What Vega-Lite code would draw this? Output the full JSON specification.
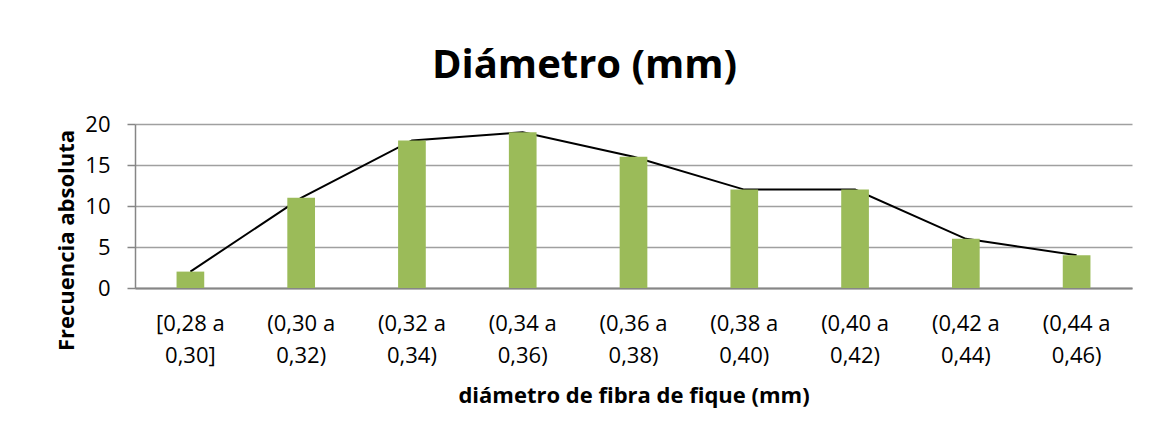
{
  "$schema": "https://vega.github.io/schema/vega-lite/v6.json",
  "autosize": "none",
  "padding": {"left": 135, "top": 124, "right": 25, "bottom": 148},
  "width": 997,
  "height": 164,
  "background": "white",
  "title": {
    "text": "Diámetro (mm)",
    "font": "Open Sans",
    "fontSize": 40,
    "fontWeight": "bold",
    "color": "#000000",
    "anchor": "middle",
    "baseline": "alphabetic",
    "offset": -5,
    "dx": -49
  },
  "data": {
    "values": [
      {"intervalo": "[0,28 a 0,30]", "frecuencia": 2},
      {"intervalo": "(0,30 a 0,32)", "frecuencia": 11},
      {"intervalo": "(0,32 a 0,34)", "frecuencia": 18},
      {"intervalo": "(0,34 a 0,36)", "frecuencia": 19},
      {"intervalo": "(0,36 a 0,38)", "frecuencia": 16},
      {"intervalo": "(0,38 a 0,40)", "frecuencia": 12},
      {"intervalo": "(0,40 a 0,42)", "frecuencia": 12},
      {"intervalo": "(0,42 a 0,44)", "frecuencia": 6},
      {"intervalo": "(0,44 a 0,46)", "frecuencia": 4}
    ]
  },
  "encoding": {
    "x": {
      "field": "intervalo",
      "type": "nominal",
      "sort": null,
      "scale": {"paddingInner": 0.75, "paddingOuter": 0.375},
      "axis": {
        "title": "diámetro de fibra de fique (mm)",
        "titleFont": "Open Sans",
        "titleFontSize": 22,
        "titleFontWeight": "bold",
        "titleColor": "#000000",
        "titleBaseline": "alphabetic",
        "titleY": 114,
        "labelExpr": "[slice(datum.label, 0, 7), slice(datum.label, 8)]",
        "labelAngle": 0,
        "labelFont": "Open Sans",
        "labelFontSize": 22,
        "labelColor": "#000000",
        "labelLineHeight": 32,
        "labelBaseline": "top",
        "labelPadding": 25,
        "ticks": false,
        "tickSize": 0,
        "domainColor": "#868686",
        "domainWidth": 2,
        "grid": false
      }
    },
    "y": {
      "field": "frecuencia",
      "type": "quantitative",
      "scale": {"domain": [0, 20], "nice": false},
      "axis": {
        "title": "Frecuencia absoluta",
        "titleFont": "Open Sans",
        "titleFontSize": 22,
        "titleFontWeight": "bold",
        "titleColor": "#000000",
        "titleBaseline": "alphabetic",
        "titleX": -62,
        "titleY": 116,
        "titleAngle": -90,
        "values": [0, 5, 10, 15, 20],
        "labelFont": "Open Sans",
        "labelFontSize": 22,
        "labelColor": "#000000",
        "labelPadding": 17,
        "tickSize": 8,
        "tickColor": "#868686",
        "tickWidth": 1.5,
        "domainColor": "#868686",
        "domainWidth": 1.5,
        "grid": true,
        "gridColor": "#A0A0A0",
        "gridWidth": 1.5
      }
    }
  },
  "layer": [
    {
      "mark": {"type": "line", "color": "#000000", "strokeWidth": 2},
      "encoding": {
        "x": {"field": "intervalo", "type": "nominal", "sort": null, "bandPosition": 0.5}
      }
    },
    {
      "mark": {"type": "bar", "color": "#9BBB59"}
    }
  ],
  "config": {
    "view": {"stroke": null}
  }
}
